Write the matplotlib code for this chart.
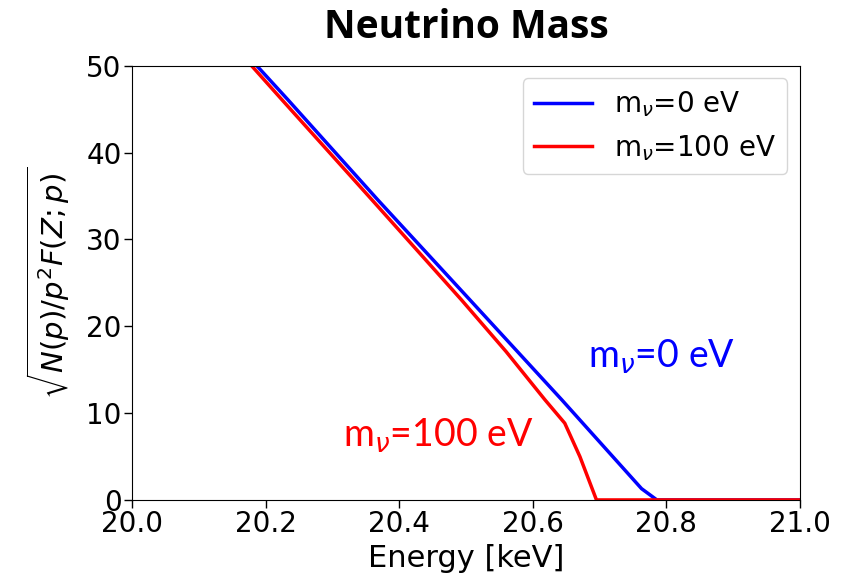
import matplotlib
matplotlib.use("Agg")
import matplotlib.pyplot as plt

# energies [keV] and Kurie-plot values
energy_m0 = [20.15, 20.2335, 20.3680, 20.5060, 20.6437, 20.763, 20.786, 21.0]
kurie_m0 = [53.1, 46.08, 34.56, 23.04, 11.52, 1.3, 0.0, 0.0]

energy_m100 = [20.15, 20.2246, 20.3593, 20.4933, 20.5600, 20.6185, 20.648, 20.6707, 20.6955, 21.0]
kurie_m100 = [52.5, 46.08, 34.56, 23.04, 17.10, 11.52, 8.84, 4.99, 0.0, 0.0]

labels = [r"m$_{\nu}$=0 eV", r"m$_{\nu}$=100 eV"]
colors = ["blue", "red"]

fig = plt.figure(figsize=(8.41, 5.82), dpi=100)
ax = fig.add_axes([0.157, 0.141, 0.794, 0.746])

ax.plot(energy_m0, kurie_m0, color=colors[0], lw=2.5, label=labels[0])
ax.plot(energy_m100, kurie_m100, color=colors[1], lw=2.5, label=labels[1])

ax.set_xlim(20.0, 21.0)
ax.set_ylim(0, 50)
ax.set_xticks([20.0, 20.2, 20.4, 20.6, 20.8, 21.0])
ax.set_yticks([0, 10, 20, 30, 40, 50])
ax.tick_params(labelsize=20, length=5.5, width=1, pad=2)
ax.set_xlabel("Energy [keV]", fontsize=22, labelpad=4)
ax.set_ylabel(r"$\sqrt{N(p)/p^2F(Z;p)}$", fontsize=21, labelpad=10)

ax.legend(loc="upper right", fontsize=20, handlelength=2.1, borderaxespad=0.45)

# annotations pasted on the slide
ax.text(20.683, 15.2, labels[0], color=colors[0], fontsize=27, family=["Lato", "DejaVu Sans"])
ax.text(20.316, 6.1, labels[1], color=colors[1], fontsize=27, family=["Lato", "DejaVu Sans"])

fig.text(0.555, 0.935, "Neutrino Mass", ha="center", fontsize=28, fontweight="bold",
         family=["Open Sans", "DejaVu Sans"])

fig.savefig("out.png", dpi=100)
